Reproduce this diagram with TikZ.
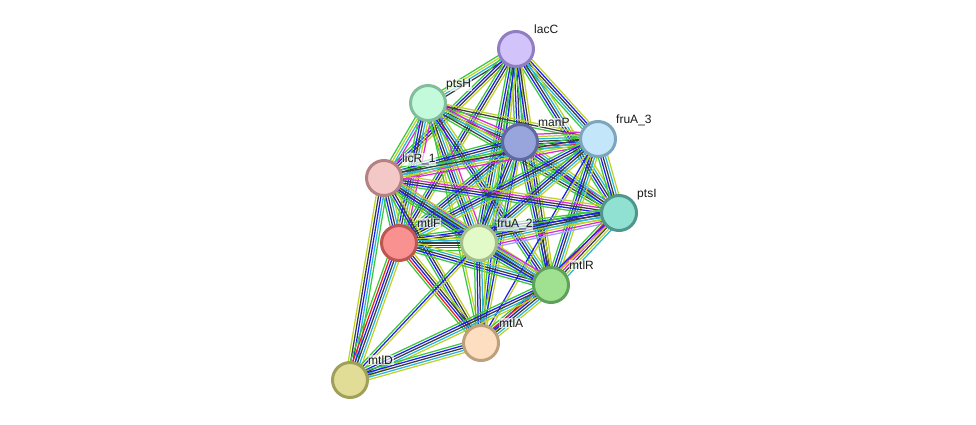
\documentclass[tikz,border=0pt]{standalone}
\usepackage{fontspec}
\setmainfont{Liberation Sans}
\usetikzlibrary{calc,backgrounds}
% evidence channels
\definecolor{cNb}{RGB}{60,200,60}
\definecolor{cFu}{RGB}{240,30,30}
\definecolor{cCo}{RGB}{30,30,240}
\definecolor{cCx}{RGB}{60,60,60}
\definecolor{cEx}{RGB}{220,40,220}
\definecolor{cDb}{RGB}{40,180,220}
\definecolor{cTm}{RGB}{190,210,40}
\definecolor{cHo}{RGB}{160,160,255}
% proteins, fill and ring
\definecolor{lacCf}{RGB}{210,195,250}\definecolor{lacCd}{RGB}{145,125,195}
\definecolor{ptsHf}{RGB}{195,250,220}\definecolor{ptsHd}{RGB}{130,190,155}
\definecolor{manPf}{RGB}{152,165,220}\definecolor{manPd}{RGB}{95,105,160}
\definecolor{fruCf}{RGB}{195,230,250}\definecolor{fruCd}{RGB}{125,165,190}
\definecolor{licRf}{RGB}{245,200,200}\definecolor{licRd}{RGB}{180,130,130}
\definecolor{ptsIf}{RGB}{145,225,210}\definecolor{ptsId}{RGB}{80,150,140}
\definecolor{mtlFf}{RGB}{250,145,145}\definecolor{mtlFd}{RGB}{190,85,85}
\definecolor{fruBf}{RGB}{225,250,200}\definecolor{fruBd}{RGB}{165,190,140}
\definecolor{mtlRf}{RGB}{160,225,145}\definecolor{mtlRd}{RGB}{95,160,90}
\definecolor{mtlAf}{RGB}{253,222,192}\definecolor{mtlAd}{RGB}{190,160,125}
\definecolor{mtlDf}{RGB}{225,220,150}\definecolor{mtlDd}{RGB}{160,160,90}
\begin{document}
\begin{tikzpicture}[x=1pt,y=-1pt,
  prot/.style={circle,minimum size=35pt,inner sep=0pt,line width=3pt,draw=#1d,fill=#1f},
  lbl/.style={anchor=base west,inner sep=0.6pt,xshift=4pt,yshift=2pt,
              fill=white,fill opacity=0.65,text opacity=1,
              font=\fontsize{12}{14}\selectfont,text=black!90},
  ppiline/.style={line width=1.25pt}]
  \useasboundingbox (0,0) rectangle (976,425);
  % the eleven proteins
  \node[prot=lacC,label={[lbl]45:lacC}]    (lacC)      at (516,49)  {};
  \node[prot=ptsH,label={[lbl]45:ptsH}]    (ptsH)      at (428,103) {};
  \node[prot=manP,label={[lbl]45:manP}]    (manP)      at (520,142) {};
  \node[prot=fruC,label={[lbl]45:fruA\_3}] (fruAthree) at (598,139) {};
  \node[prot=licR,label={[lbl]45:licR\_1}] (licRone)   at (384,178) {};
  \node[prot=ptsI,label={[lbl]45:ptsI}]    (ptsI)      at (619,213) {};
  \node[prot=mtlF,label={[lbl]45:mtlF}]    (mtlF)      at (399,243) {};
  \node[prot=fruB,label={[lbl]45:fruA\_2}] (fruAtwo)   at (479,243) {};
  \node[prot=mtlR,label={[lbl]45:mtlR}]    (mtlR)      at (551,285) {};
  \node[prot=mtlA,label={[lbl]45:mtlA}]    (mtlA)      at (481,343) {};
  \node[prot=mtlD,label={[lbl]45:mtlD}]    (mtlD)      at (350,380) {};
  % edges: one thin line per evidence channel, side by side
  \begin{pgfonlayer}{background}
  \foreach \a/\b/\cols in {
    lacC/ptsH/{cNb,cTm,cDb,cCx},
    lacC/manP/{cNb,cCo,cCx,cDb,cTm},
    lacC/fruAthree/{cNb,cDb,cCx,cCo,cTm},
    lacC/licRone/{cNb,cCo,cCx,cTm},
    lacC/ptsI/{cNb,cCo,cCx,cDb,cTm},
    lacC/mtlF/{cNb,cCo,cCx,cTm},
    lacC/fruAtwo/{cNb,cCo,cCx,cDb,cTm},
    lacC/mtlR/{cNb,cCo,cCx,cTm},
    lacC/mtlA/{cNb,cCo,cTm},
    ptsH/manP/{cNb,cCx,cDb,cTm,cEx},
    ptsH/fruAthree/{cNb,cCx,cTm},
    ptsH/licRone/{cNb,cTm,cDb,cEx},
    ptsH/ptsI/{cNb,cCx,cDb,cTm,cEx},
    ptsH/mtlF/{cNb,cCo,cCx,cDb,cTm,cEx},
    ptsH/fruAtwo/{cNb,cCo,cCx,cDb,cTm,cEx},
    ptsH/mtlR/{cNb,cCo,cCx,cDb,cTm},
    ptsH/mtlA/{cNb,cTm},
    manP/fruAthree/{cNb,cFu,cCo,cCx,cDb,cTm,cEx},
    manP/licRone/{cNb,cCo,cCx,cDb,cTm,cEx},
    manP/ptsI/{cNb,cCo,cCx,cDb,cTm},
    manP/mtlF/{cNb,cCo,cCx,cDb,cTm},
    manP/fruAtwo/{cNb,cCo,cCx,cDb,cTm,cHo},
    manP/mtlR/{cNb,cCo,cCx,cTm},
    manP/mtlA/{cNb,cCo,cTm},
    fruAthree/licRone/{cNb,cCx,cDb,cTm,cEx},
    fruAthree/ptsI/{cNb,cCo,cCx,cDb,cTm},
    fruAthree/mtlF/{cNb,cCo,cCx,cDb,cTm},
    fruAthree/fruAtwo/{cNb,cCo,cCx,cDb,cTm},
    fruAthree/mtlR/{cNb,cCo,cCx,cDb,cTm},
    fruAthree/mtlA/{cCo,cTm},
    licRone/ptsI/{cNb,cCo,cCx,cEx,cTm},
    licRone/mtlF/{cNb,cCo,cCx,cDb,cTm},
    licRone/fruAtwo/{cNb,cCo,cCx,cDb,cTm,cEx},
    licRone/mtlR/{cNb,cCo,cCx,cDb,cTm},
    licRone/mtlA/{cNb,cCo,cCx,cTm},
    licRone/mtlD/{cTm,cCx,cCo,cDb,cNb},
    ptsI/mtlF/{cNb,cCo,cCx,cDb,cTm},
    ptsI/fruAtwo/{cNb,cCo,cCx,cDb,cTm,cEx,cHo},
    ptsI/mtlR/{cNb,cFu,cEx,cCx,cTm,cDb},
    ptsI/mtlA/{cCo,cTm},
    mtlF/fruAtwo/{cNb,cFu,cCo,cCx,cDb,cTm,cEx},
    mtlF/mtlR/{cNb,cCo,cCx,cDb,cTm},
    mtlF/mtlA/{cNb,cFu,cCo,cCx,cTm},
    mtlF/mtlD/{cNb,cFu,cCo,cCx,cDb,cTm},
    fruAtwo/mtlR/{cNb,cCo,cCx,cDb,cTm,cEx},
    fruAtwo/mtlA/{cNb,cCo,cCx,cDb,cTm},
    fruAtwo/mtlD/{cNb,cCo,cTm},
    mtlR/mtlA/{cNb,cFu,cCo,cCx,cDb,cTm},
    mtlR/mtlD/{cNb,cCo,cCx,cDb,cTm},
    mtlA/mtlD/{cNb,cCo,cCx,cDb,cTm}} {
    \foreach \c [count=\k] in \cols {\xdef\ncols{\k}}
    \foreach \c [count=\k] in \cols {
      \pgfmathsetmacro\off{(\k-(\ncols+1)/2)*2.4}
      \draw[ppiline,\c] ($(\a)!\off pt!90:(\b)$) -- ($(\b)!\off pt!-90:(\a)$);
    }
  }
  \end{pgfonlayer}
\end{tikzpicture}
\end{document}
